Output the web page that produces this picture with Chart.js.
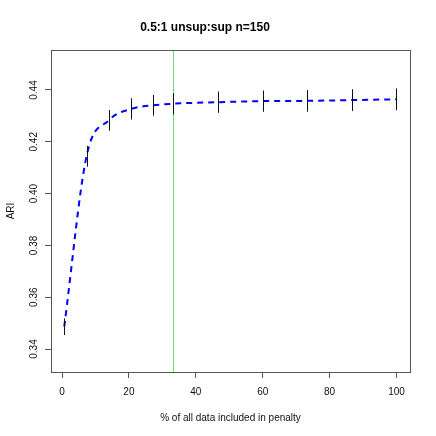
<!DOCTYPE html>
<html>
<head>
<meta charset="utf-8">
<script src="https://cdn.jsdelivr.net/npm/chart.js@4/dist/chart.umd.min.js"></script>
<style>
  html, body { margin: 0; padding: 0; background: #fff; }
  #wrap { width: 436px; height: 436px; }
</style>
</head>
<body>
<div id="wrap"><canvas id="c" width="436" height="436"></canvas></div>
<script>
// % of all data included in penalty
const pct = [0.67, 7.33, 14, 20.67, 27.33, 33.33, 46.67, 60, 73.33, 86.67, 100]
// mean ARI and half-length of error bars
const ari = [0.3486, 0.4144, 0.4283, 0.4327, 0.4341, 0.4347, 0.4353, 0.4357, 0.4358, 0.4361, 0.4364]
const ariErr = [0.0032, 0.0040, 0.0040, 0.0041, 0.0040, 0.0041, 0.0041, 0.0041, 0.0042, 0.0042, 0.0042]
const vline = [33.33]
const xTicks = [0, 20, 40, 60, 80, 100]
const yTicks = [0.34, 0.36, 0.38, 0.40, 0.42, 0.44]

const FONT = "'Liberation Sans', Arial, Helvetica, sans-serif"
Chart.defaults.font.family = FONT
Chart.defaults.color = '#111'

// box, error bars, rotated y labels and reference line
const extras = {
  id: 'extras',
  beforeDatasetsDraw(chart) {
    const { ctx, chartArea: a, scales } = chart
    ctx.save()
    ctx.strokeStyle = '#6be06b'
    ctx.lineWidth = 1
    vline.forEach(v => {
      const px = Math.round(scales.x.getPixelForValue(v)) + 0.5
      ctx.beginPath()
      ctx.moveTo(px, a.top)
      ctx.lineTo(px, a.bottom)
      ctx.stroke()
    })
    ctx.restore()
  },
  afterDatasetsDraw(chart) {
    const { ctx, scales } = chart
    ctx.save()
    ctx.strokeStyle = '#111'
    ctx.lineWidth = 1
    pct.forEach((x, i) => {
      const px = Math.round(scales.x.getPixelForValue(x)) + 0.5
      ctx.beginPath()
      ctx.moveTo(px, scales.y.getPixelForValue(ari[i] - ariErr[i]))
      ctx.lineTo(px, scales.y.getPixelForValue(ari[i] + ariErr[i]))
      ctx.stroke()
    })
    ctx.restore()
  },
  afterDraw(chart) {
    const { ctx, chartArea: a, scales } = chart
    ctx.save()
    ctx.strokeStyle = '#555'
    ctx.lineWidth = 1
    ctx.strokeRect(a.left + 0.5, a.top + 0.5, a.right - a.left, a.bottom - a.top)
    ctx.fillStyle = '#111'
    ctx.font = '10px ' + FONT
    ctx.textAlign = 'center'
    ctx.textBaseline = 'middle'
    yTicks.forEach(v => {
      const py = scales.y.getPixelForValue(v)
      ctx.save()
      ctx.translate(34.5, py)
      ctx.rotate(-Math.PI / 2)
      ctx.fillText(v.toFixed(2), 0, 0)
      ctx.restore()
    })
    ctx.restore()
  }
}

new Chart(document.getElementById('c'), {
  type: 'line',
  data: {
    datasets: [
      {
        data: pct.map((x, i) => ({ x, y: ari[i] })),
        borderColor: '#0000ff',
        borderWidth: 2,
        borderDash: [6, 5],
        pointRadius: 0,
        cubicInterpolationMode: 'monotone',
        fill: false,
      },
    ],
  },
  options: {
    responsive: false,
    animation: false,
    events: [],
    layout: { padding: { left: 0, top: 0, right: 26, bottom: 0 } },
    plugins: {
      legend: { display: false },
      tooltip: { enabled: false },
      title: {
        display: true,
        text: '0.5:1 unsup:sup n=150',
        color: '#000',
        font: { size: 12, weight: 'bold' },
        padding: { top: 20.6, bottom: 15 },
      },
    },
    scales: {
      x: {
        type: 'linear',
        offset: false,
        min: -3.29,
        max: 104.04,
        afterBuildTicks: s => { s.ticks = xTicks.map(v => ({ value: v })) },
        afterFit: s => { s.height = 64 },
        ticks: { font: { size: 10 }, padding: 8, maxRotation: 0, color: '#111' },
        grid: { drawOnChartArea: false, drawTicks: true, tickLength: 6, color: '#555' },
        border: { display: false },
        title: {
          display: true,
          text: '% of all data included in penalty',
          font: { size: 10 },
          color: '#111',
          padding: { top: 0, bottom: 11.8 },
        },
      },
      y: {
        type: 'linear',
        min: 0.33112,
        max: 0.45544,
        afterBuildTicks: s => { s.ticks = yTicks.map(v => ({ value: v })) },
        afterFit: s => { s.width = 51 },
        ticks: { display: false },
        grid: { drawOnChartArea: false, drawTicks: true, tickLength: 6, color: '#555' },
        border: { display: false },
        title: {
          display: true,
          text: 'ARI',
          font: { size: 10 },
          color: '#111',
          padding: { top: 5.2, bottom: 0 },
        },
      },
    },
  },
  plugins: [extras],
})
</script>
</body>
</html>
